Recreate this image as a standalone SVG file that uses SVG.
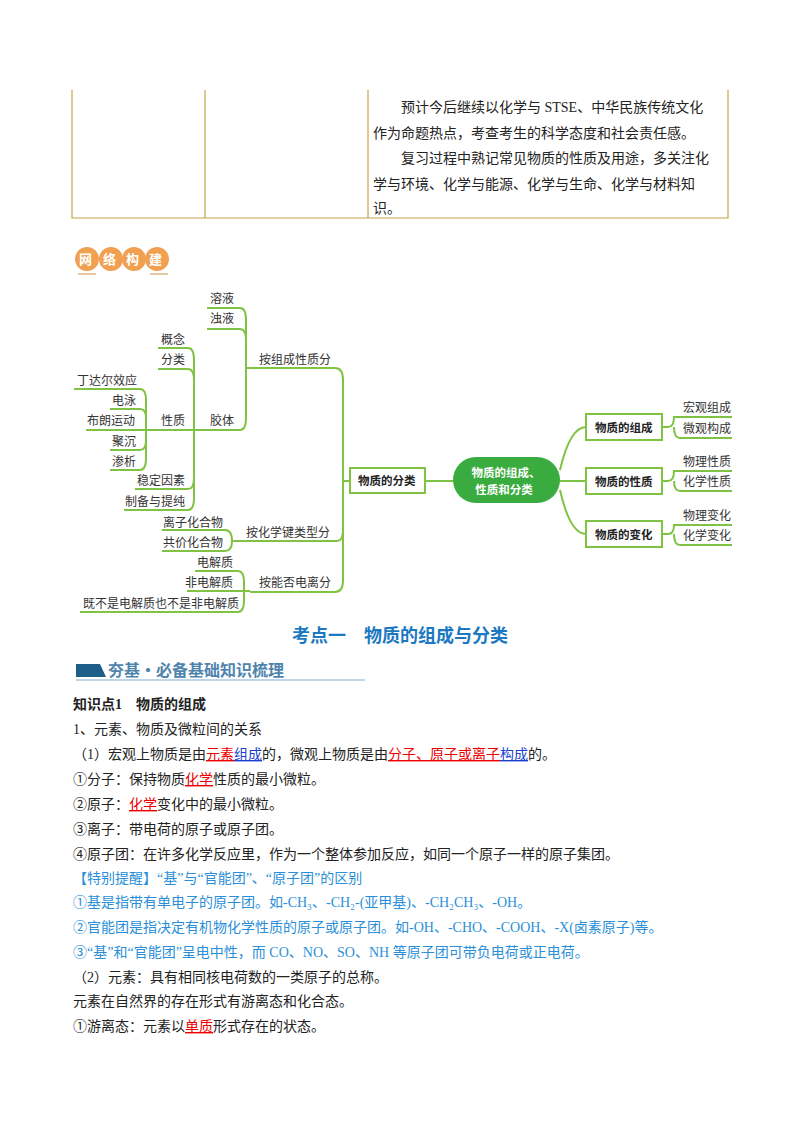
<svg xmlns="http://www.w3.org/2000/svg" width="800" height="1132" viewBox="0 0 800 1132">
<style>
text{font-family:"Liberation Serif","Noto Sans CJK SC",serif;font-size:14px;fill:#222}
.m{font-family:"Noto Sans CJK SC",sans-serif;font-size:12px;fill:#333}
.b{font-family:"Noto Sans CJK SC",sans-serif;font-size:11.5px;font-weight:bold;fill:#222}
.c path{fill:none;stroke:#80c342;stroke-width:2}
.box{fill:#fff;stroke:#80c342;stroke-width:2}
.r{fill:#e00;text-decoration:underline}
.u{fill:#1a3fd0;text-decoration:underline}
.bl{fill:#2a8fd8}
</style>
<rect width="800" height="1132" fill="#fff"/>
<g id="table" stroke="#c8a24a" stroke-width="1.2" fill="none">
<path d="M72 90V218H728V90M205 90V218M368 90V218"/>
</g>
<g id="tabletext">
<text x="401" y="112">预计今后继续以化学与 STSE、中华民族传统文化</text>
<text x="373" y="138">作为命题热点，考查考生的科学态度和社会责任感。</text>
<text x="401" y="163">复习过程中熟记常见物质的性质及用途，多关注化</text>
<text x="373" y="189">学与环境、化学与能源、化学与生命、化学与材料知</text>
<text x="373" y="213">识。</text>
</g>
<g id="badge">
<circle cx="87" cy="259" r="12" fill="#f0a050"/><circle cx="111" cy="259" r="12" fill="#f0a050"/><circle cx="134" cy="259" r="12" fill="#f0a050"/><circle cx="157" cy="259" r="12" fill="#f0a050"/>
<text x="79" y="264" style="font-family:'Noto Sans CJK SC',sans-serif;font-size:13px;font-weight:bold;fill:#fff">网</text>
<text x="103" y="264" style="font-family:'Noto Sans CJK SC',sans-serif;font-size:13px;font-weight:bold;fill:#fff">络</text>
<text x="126" y="264" style="font-family:'Noto Sans CJK SC',sans-serif;font-size:13px;font-weight:bold;fill:#fff">构</text>
<text x="149" y="264" style="font-family:'Noto Sans CJK SC',sans-serif;font-size:13px;font-weight:bold;fill:#fff">建</text>
<rect x="78" y="273" width="18" height="2" fill="#e8c8a0"/><rect x="150" y="273" width="18" height="2" fill="#e8c8a0"/>
</g>
<g id="connectors" class="c">
<path d="M207 308H240Q246 308 246 320V418Q246 430 240 430H160"/>
<path d="M207 329H240Q246 329 246 340"/>
<path d="M246 368H335Q343 368 343 380V580Q343 592 335 592H250"/>
<path d="M343 481H350M425 481H453"/>
<path d="M337 541Q343 541 343 530"/>
<path d="M158 348H188Q194 348 194 360V498Q194 510 188 510H124"/>
<path d="M158 369H188Q194 369 194 380"/>
<path d="M135 489H188Q194 489 194 478"/>
<path d="M74 389H140Q146 389 146 400V458Q146 470 140 470H110"/>
<path d="M110 409H140Q146 409 146 418"/>
<path d="M86 430H194"/>
<path d="M110 450H140Q146 450 146 440"/>
<path d="M162 530H225Q232 530 232 541Q232 551 225 551H162M232 541H337"/>
<path d="M195 571H238Q244 571 244 582Q244 592 244 600Q244 612 238 612H80M187 591H250"/>
<path d="M560 470Q570 427 586 427M560 490Q570 534 586 534M560 481H586"/>
<path d="M662 427H668Q674 427 674 417H732M674 427Q674 438 680 438H732"/>
<path d="M662 481H668Q674 481 674 471H732M674 481Q674 491 680 491H732"/>
<path d="M662 534H668Q674 534 674 525H732M674 534Q674 545 680 545H732"/>
</g>
<g id="mm-left">
<text class="m" x="210" y="303">溶液</text>
<text class="m" x="210" y="323">浊液</text>
<text class="m" x="259" y="364">按组成性质分</text>
<text class="m" x="210" y="425">胶体</text>
<text class="m" x="161" y="344">概念</text>
<text class="m" x="161" y="364">分类</text>
<text class="m" x="161" y="425">性质</text>
<text class="m" x="77" y="385">丁达尔效应</text>
<text class="m" x="112" y="405">电泳</text>
<text class="m" x="87" y="425">布朗运动</text>
<text class="m" x="112" y="446">聚沉</text>
<text class="m" x="112" y="466">渗析</text>
<text class="m" x="137" y="485">稳定因素</text>
<text class="m" x="125" y="506">制备与提纯</text>
<text class="m" x="163" y="527">离子化合物</text>
<text class="m" x="163" y="547">共价化合物</text>
<text class="m" x="246" y="537">按化学键类型分</text>
<text class="m" x="197" y="567">电解质</text>
<text class="m" x="185" y="587">非电解质</text>
<text class="m" x="83" y="608">既不是电解质也不是非电解质</text>
<text class="m" x="259" y="587">按能否电离分</text>
</g>
<g id="n-fenlei"><rect class="box" x="350" y="468" width="75" height="25"/><text class="b" x="358" y="485">物质的分类</text></g>
<g id="n-center"><rect x="453" y="457" width="107" height="46" rx="23" fill="#3aab3e"/>
<text class="b" x="506" y="477" text-anchor="middle" style="fill:#fff">物质的组成、</text>
<text class="b" x="504" y="494" text-anchor="middle" style="fill:#fff">性质和分类</text></g>
<g id="n-zucheng"><rect class="box" x="586" y="414" width="76" height="26"/><text class="b" x="595" y="432">物质的组成</text></g>
<g id="n-xingzhi"><rect class="box" x="586" y="468" width="76" height="26"/><text class="b" x="595" y="486">物质的性质</text></g>
<g id="n-bianhua"><rect class="box" x="586" y="521" width="76" height="26"/><text class="b" x="595" y="539">物质的变化</text></g>
<g id="mm-right">
<text class="m" x="683" y="412">宏观组成</text><text class="m" x="683" y="433">微观构成</text>
<text class="m" x="683" y="466">物理性质</text><text class="m" x="683" y="486">化学性质</text>
<text class="m" x="683" y="520">物理变化</text><text class="m" x="683" y="540">化学变化</text>
</g>
<g id="body">
<text x="400" y="642" text-anchor="middle" style="font-family:'Noto Sans CJK SC',sans-serif;font-size:18px;font-weight:bold;fill:#1b78c2">考点一　物质的组成与分类</text>
<path d="M76 664H100L106 677H76Z" fill="#1e5f8a"/>
<text x="108" y="676" style="font-family:'Noto Sans CJK SC',sans-serif;font-size:16px;font-weight:bold;fill:#4f84ad">夯基·必备基础知识梳理</text>
<path d="M76 680H365" stroke="#a8c8e0" stroke-width="1.5"/>
<text x="73" y="709" style="font-weight:bold">知识点1　物质的组成</text>
<text x="73" y="734">1、元素、物质及微粒间的关系</text>
<text x="73" y="759">（1）宏观上物质是由<tspan class="r">元素</tspan><tspan class="u">组成</tspan>的，微观上物质是由<tspan class="r">分子、原子或离子</tspan><tspan class="u">构成</tspan>的。</text>
<text x="73" y="784">①分子：保持物质<tspan class="r">化学</tspan>性质的最小微粒。</text>
<text x="73" y="809">②原子：<tspan class="r">化学</tspan>变化中的最小微粒。</text>
<text x="73" y="834">③离子：带电荷的原子或原子团。</text>
<text x="73" y="859">④原子团：在许多化学反应里，作为一个整体参加反应，如同一个原子一样的原子集团。</text>
<text x="73" y="883" class="bl">【特别提醒】“基”与“官能团”、“原子团”的区别</text>
<text x="73" y="907" class="bl">①基是指带有单电子的原子团。如-CH₃、-CH₂-(亚甲基)、-CH₂CH₃、-OH。</text>
<text x="73" y="932" class="bl">②官能团是指决定有机物化学性质的原子或原子团。如-OH、-CHO、-COOH、-X(卤素原子)等。</text>
<text x="73" y="957" class="bl">③“基”和“官能团”呈电中性，而 CO、NO、SO、NH 等原子团可带负电荷或正电荷。</text>
<text x="73" y="982">（2）元素：具有相同核电荷数的一类原子的总称。</text>
<text x="73" y="1006">元素在自然界的存在形式有游离态和化合态。</text>
<text x="73" y="1031">①游离态：元素以<tspan class="r">单质</tspan>形式存在的状态。</text>
</g>
</svg>
